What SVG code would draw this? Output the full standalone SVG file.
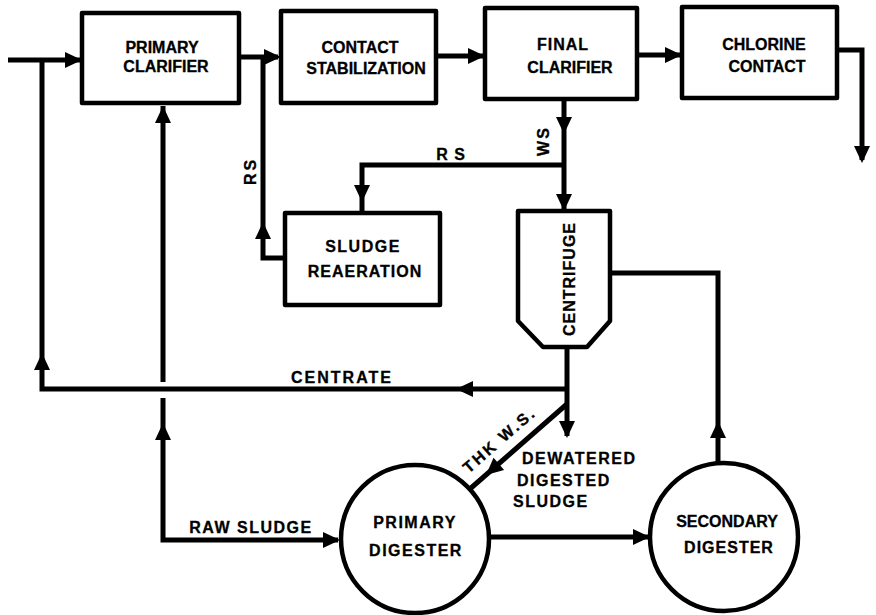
<svg xmlns="http://www.w3.org/2000/svg" xmlns:xlink="http://www.w3.org/1999/xlink" width="876" height="615" viewBox="0 0 876 615">
<style>
.box{fill:#fff;stroke:#000;stroke-width:4.5;stroke-linejoin:round}
.ln{fill:none;stroke:#000;stroke-width:5;stroke-linejoin:miter}
.t{font-family:"Liberation Sans",Arial,sans-serif;font-weight:bold;font-size:16px;fill:#000;stroke:#000;stroke-width:0.3}
.m{text-anchor:middle}
</style>
<defs>
<path id="ah" d="M0,0 L-17,-8 L-17,8 Z" fill="#000"/>
</defs>
<rect width="876" height="615" fill="#fff"/>
<g id="connectors">
<path class="ln" d="M8,60 H80"/>
<path class="ln" d="M42,60 V389 H567"/>
<path class="ln" d="M163,106 V382"/>
<path class="ln" d="M163,398 V540 H338"/>
<path class="ln" d="M239,57 H278"/>
<path class="ln" d="M263,57 V258 H285"/>
<path class="ln" d="M436,56 H483"/>
<path class="ln" d="M637,55 H680"/>
<path class="ln" d="M837,50 H862 V160"/>
<path class="ln" d="M564,99 V209"/>
<path class="ln" d="M564,165 H362 V211"/>
<path class="ln" d="M567,347 V436"/>
<path class="ln" d="M567,404 L471,488"/>
<path class="ln" d="M610,273 H718 V462"/>
<path class="ln" d="M489,537 H648"/>
<use xlink:href="#ah" transform="translate(82,60)"/>
<use xlink:href="#ah" transform="translate(42,353) rotate(-90)"/>
<use xlink:href="#ah" transform="translate(456,389) rotate(180)"/>
<use xlink:href="#ah" transform="translate(163,106) rotate(-90)"/>
<use xlink:href="#ah" transform="translate(163,423) rotate(-90)"/>
<use xlink:href="#ah" transform="translate(340,540)"/>
<use xlink:href="#ah" transform="translate(281,57)"/>
<use xlink:href="#ah" transform="translate(263,222) rotate(-90)"/>
<use xlink:href="#ah" transform="translate(485,56)"/>
<use xlink:href="#ah" transform="translate(682,55)"/>
<use xlink:href="#ah" transform="translate(862,163) rotate(90)"/>
<use xlink:href="#ah" transform="translate(564,134) rotate(90)"/>
<use xlink:href="#ah" transform="translate(564,211) rotate(90)"/>
<use xlink:href="#ah" transform="translate(362,202) rotate(90)"/>
<use xlink:href="#ah" transform="translate(567,438) rotate(90)"/>
<use xlink:href="#ah" transform="translate(486,475) rotate(139)"/>
<use xlink:href="#ah" transform="translate(718,421) rotate(-90)"/>
<use xlink:href="#ah" transform="translate(650,537)"/>
<text class="t m" style="letter-spacing:3px" transform="translate(256,171) rotate(-90)">RS</text>
<text class="t m" style="letter-spacing:1px" x="451" y="160">R S</text>
<text class="t m" style="letter-spacing:2px" transform="translate(549,141) rotate(-90)">WS</text>
<text class="t m" style="letter-spacing:2px" x="342" y="383">CENTRATE</text>
<text class="t m" style="letter-spacing:1.5px" x="251" y="533">RAW SLUDGE</text>
<text class="t m" style="letter-spacing:2.5px" transform="translate(503,444) rotate(-41)">THK W.S.</text>
<text class="t" style="letter-spacing:1.5px" x="522" y="464">DEWATERED</text>
<text class="t" style="letter-spacing:1.5px" x="517" y="486">DIGESTED</text>
<text class="t" style="letter-spacing:1.5px" x="513" y="507">SLUDGE</text>
</g>
<g id="primary-clarifier">
<rect class="box" x="82" y="13" width="157" height="90"/>
<text class="t m" x="162" y="53">PRIMARY</text>
<text class="t m" x="166" y="72">CLARIFIER</text>
</g>
<g id="contact-stabilization">
<rect class="box" x="281" y="11" width="155" height="92"/>
<text class="t m" x="360" y="53">CONTACT</text>
<text class="t m" x="366" y="74">STABILIZATION</text>
</g>
<g id="final-clarifier">
<rect class="box" x="485" y="8" width="152" height="91"/>
<text class="t m" style="letter-spacing:1px" x="563" y="50">FINAL</text>
<text class="t m" x="570" y="73">CLARIFIER</text>
</g>
<g id="chlorine-contact">
<rect class="box" x="682" y="7" width="155" height="91"/>
<text class="t m" x="764" y="50">CHLORINE</text>
<text class="t m" x="767" y="72">CONTACT</text>
</g>
<g id="sludge-reaeration">
<rect class="box" x="285" y="213" width="155" height="92"/>
<text class="t m" style="letter-spacing:1.5px" x="363" y="252">SLUDGE</text>
<text class="t m" style="letter-spacing:1px" x="365" y="277">REAERATION</text>
</g>
<g id="centrifuge">
<path class="box" d="M518,211 H610 V321 L587,347 H543 L518,321 Z"/>
<text class="t m" style="letter-spacing:1px" transform="translate(575,279) rotate(-90)">CENTRIFUGE</text>
</g>
<g id="primary-digester">
<circle class="box" cx="415" cy="539" r="74"/>
<text class="t m" style="letter-spacing:1.5px" x="415" y="528">PRIMARY</text>
<text class="t m" style="letter-spacing:1.5px" x="416" y="556">DIGESTER</text>
</g>
<g id="secondary-digester">
<circle class="box" cx="724" cy="537" r="74"/>
<text class="t m" x="727" y="527">SECONDARY</text>
<text class="t m" style="letter-spacing:1px" x="729" y="553">DIGESTER</text>
</g>
</svg>
